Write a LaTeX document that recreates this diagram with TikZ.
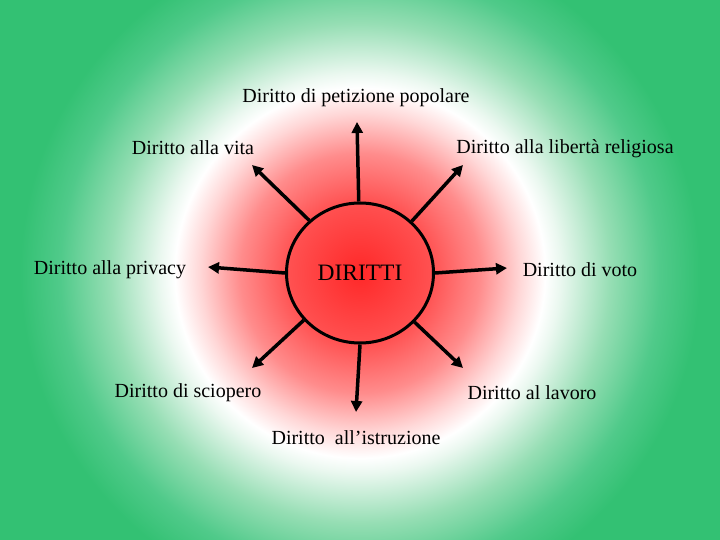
\documentclass[tikz,border=0pt]{standalone}
\usepackage{fontspec}
\setmainfont{Liberation Serif}
\usetikzlibrary{arrows.meta,shapes.geometric}
\definecolor{r0}{RGB}{255,40,40}
\definecolor{r1}{RGB}{255,80,80}
\definecolor{r2}{RGB}{255,140,140}
\definecolor{r3}{RGB}{255,215,215}
\definecolor{g3}{RGB}{235,248,240}
\definecolor{g1}{RGB}{150,222,180}
\definecolor{g2}{RGB}{80,202,138}
\definecolor{g0}{RGB}{51,193,115}
\pgfdeclareradialshading{bgshade}{\pgfpoint{0bp}{0bp}}{%
color(0bp)=(r0); color(3.5bp)=(r1); color(6bp)=(r2); color(8bp)=(r3);
color(9.25bp)=(white); color(10bp)=(g3); color(12.5bp)=(g1);
color(15bp)=(g2); color(17bp)=(g0); color(50bp)=(g0)}
\begin{document}
\begin{tikzpicture}[x=1pt,y=-1pt,
  lbl/.style={font=\fontsize{20}{24}\selectfont, inner sep=0pt, text=black},
  arr/.style={line width=3.5pt, -{Triangle[length=11pt,width=11pt]}, black}]
\useasboundingbox (0,0) rectangle (720,540);
\begin{scope}
\clip (0,0) rectangle (720,540);
\shade[shading=bgshade] (360,273) circle (500);
\end{scope}
\node[ellipse, draw=black, line width=3pt, minimum width=147pt, minimum height=140pt, inner sep=0pt,
  font=\fontsize{23.5}{28}\selectfont] (c) at (360,273) {DIRITTI};
\coordinate (tU) at (357,122);
\coordinate (tD) at (356,412);
\coordinate (tL) at (208,267);
\coordinate (tR) at (507,268);
\coordinate (tUL) at (252,165);
\coordinate (tUR) at (463,165);
\coordinate (tDL) at (252,368);
\coordinate (tDR) at (463,368);
\draw[arr] (c.91) -- (tU);
\draw[arr] (c.270) -- (tD);
\draw[arr] (c.180) -- (tL);
\draw[arr] (c.0) -- (tR);
\draw[arr] (c.134) -- (tUL);
\draw[arr] (c.45) -- (tUR);
\draw[arr] (c.220) -- (tDL);
\draw[arr] (c.318) -- (tDR);
\node[lbl] (n1) at (356,98) {Diritto di petizione popolare};
\node[lbl] (n2) at (193,148) {Diritto alla vita};
\node[lbl] (n3) at (565,149) {Diritto alla libertà religiosa};
\node[lbl] (n4) at (110,270) {Diritto alla privacy};
\node[lbl] (n5) at (580,270) {Diritto di voto};
\node[lbl] (n6) at (188,393) {Diritto di sciopero};
\node[lbl] (n7) at (532,393) {Diritto al lavoro};
\node[lbl] (n8) at (356,438) {Diritto\ \ all’istruzione};
\end{tikzpicture}
\end{document}
